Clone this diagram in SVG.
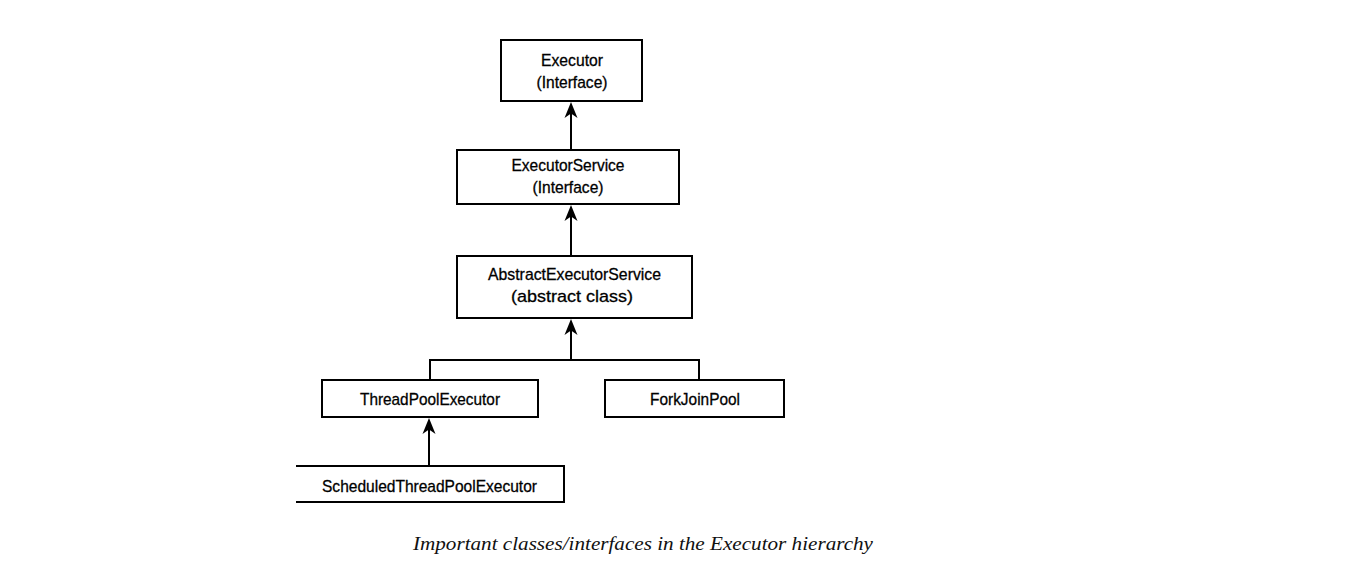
<svg xmlns="http://www.w3.org/2000/svg" width="1349" height="571" viewBox="0 0 1349 571">
<style>
.box{fill:#fff;stroke:#000;stroke-width:2}
.t{font-family:"Liberation Sans",Arial,sans-serif;font-size:17px;fill:#000;stroke:#000;stroke-width:0.3;text-anchor:middle}
.ln{fill:none;stroke:#000;stroke-width:2}
.cap{font-family:"Liberation Serif","Times New Roman",serif;font-style:italic;font-size:19px;fill:#111;text-anchor:middle}
</style>
<defs>
<path id="ah" d="M0,0 l-6.5,16 l6.5,-4.5 l6.5,4.5 Z" fill="#000"/>
</defs>
<rect width="1349" height="571" fill="#fff"/>
<g id="connectors">
<line class="ln" x1="571" y1="150" x2="571" y2="106"/>
<line class="ln" x1="571" y1="256" x2="571" y2="209"/>
<line class="ln" x1="571" y1="360" x2="571" y2="323"/>
<polyline class="ln" points="430,380 430,360 699,360 699,380"/>
<line class="ln" x1="429" y1="466" x2="429" y2="422"/>
<use href="#ah" x="571" y="102"/>
<use href="#ah" x="571" y="205"/>
<use href="#ah" x="571" y="319"/>
<use href="#ah" x="429" y="418"/>
</g>
<g id="executor">
<rect class="box" x="501" y="40" width="141" height="61"/>
<text class="t" x="572" y="66" textLength="62" lengthAdjust="spacingAndGlyphs">Executor</text>
<text class="t" x="572" y="88" textLength="71" lengthAdjust="spacingAndGlyphs">(Interface)</text>
</g>
<g id="executorService">
<rect class="box" x="457" y="150" width="222" height="54"/>
<text class="t" x="568" y="171" textLength="113" lengthAdjust="spacingAndGlyphs">ExecutorService</text>
<text class="t" x="568" y="193" textLength="71" lengthAdjust="spacingAndGlyphs">(Interface)</text>
</g>
<g id="abstractExecutorService">
<rect class="box" x="457" y="256" width="235" height="62"/>
<text class="t" x="574.5" y="280" textLength="173" lengthAdjust="spacingAndGlyphs">AbstractExecutorService</text>
<text class="t" x="572" y="302" textLength="122" lengthAdjust="spacingAndGlyphs">(abstract class)</text>
</g>
<g id="threadPoolExecutor">
<rect class="box" x="322" y="380" width="216" height="37"/>
<text class="t" x="430" y="405" textLength="140" lengthAdjust="spacingAndGlyphs">ThreadPoolExecutor</text>
</g>
<g id="forkJoinPool">
<rect class="box" x="605" y="380" width="179" height="37"/>
<text class="t" x="695" y="405" textLength="90" lengthAdjust="spacingAndGlyphs">ForkJoinPool</text>
</g>
<g id="scheduledThreadPoolExecutor">
<path class="ln" d="M296,466 H564 V502 H296"/>
<text class="t" x="429.5" y="492" textLength="215" lengthAdjust="spacingAndGlyphs">ScheduledThreadPoolExecutor</text>
</g>
<text class="cap" x="643" y="550" textLength="460" lengthAdjust="spacingAndGlyphs">Important classes/interfaces in the Executor hierarchy</text>
</svg>
